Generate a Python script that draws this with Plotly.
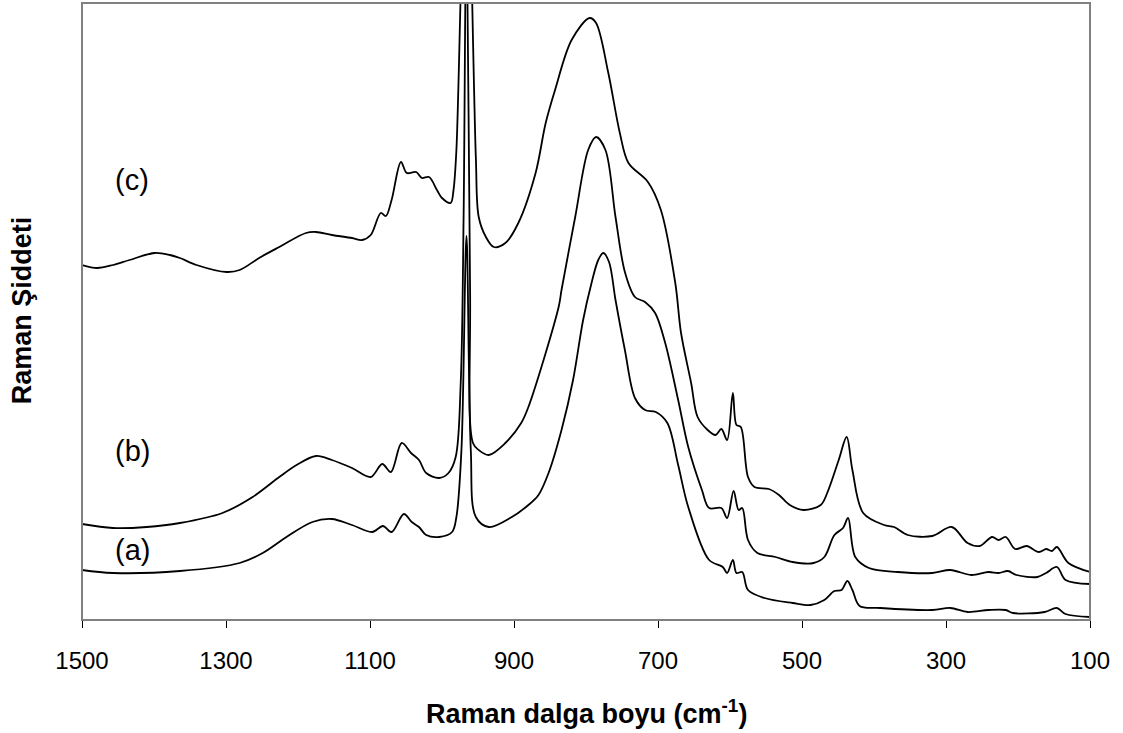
import plotly.graph_objects as go

# ---- data (wavenumber cm^-1, intensity a.u.) ----
wn_a = [1500, 1457, 1364, 1281, 1249, 1216, 1180, 1153, 1125, 1097, 1082, 1070, 1053, 1042, 1032,
        1022, 1004, 986, 980, 973, 966, 960, 953, 935, 903, 880, 866, 852, 834, 818, 804, 793, 783,
        776, 768, 759, 746, 732, 718, 703, 687, 672, 658, 629, 610, 604, 596, 591, 583, 575, 552,
        513, 488, 469, 455, 445, 437, 430, 420, 391, 319, 294, 270, 241, 217, 207, 163, 146, 134, 100]
int_a = [50, 47, 49, 57, 67, 83, 98, 101, 95, 88, 94, 88, 106, 98, 93,
         85, 83, 88, 103, 170, 384, 170, 103, 93, 103, 115, 125, 147, 190, 240, 300, 335, 360,
         367, 358, 320, 270, 222, 210, 208, 197, 155, 113, 60, 53, 47, 60, 47, 48, 30, 22,
         17, 15, 20, 29, 30, 39, 30, 14, 12, 10, 12, 8, 10, 10, 7, 8, 12, 6, 3]

wn_b = [1500, 1457, 1410, 1364, 1305, 1263, 1226, 1202, 1175, 1153, 1125, 1099, 1083, 1071, 1056,
        1043, 1032, 1022, 1004, 991, 981, 974, 970, 966, 961, 957, 949, 935, 912, 890, 880, 838,
        834, 815, 797, 786, 773, 759, 746, 732, 718, 704, 690, 672, 658, 639, 629, 612, 604, 595,
        588, 583, 575, 562, 537, 513, 484, 469, 455, 443, 436, 426, 407, 367, 319, 294, 265, 241,
        227, 214, 202, 173, 161, 146, 134, 100]
int_b = [96, 92, 93, 97, 107, 123, 143, 155, 164, 160, 152, 143, 156, 148, 177,
         167, 160, 147, 142, 147, 163, 237, 403, 720, 330, 177, 170, 165, 177, 197, 213, 313,
         330, 403, 470, 483, 470, 403, 348, 323, 318, 307, 277, 220, 173, 130, 112, 112, 102, 129,
         110, 112, 80, 67, 63, 58, 57, 63, 85, 92, 102, 63, 52, 48, 47, 50, 45, 48,
         47, 49, 45, 43, 47, 53, 40, 36]

wn_c = [1500, 1479, 1457, 1434, 1399, 1378, 1364, 1341, 1299, 1281, 1254, 1226, 1189, 1175, 1153,
        1125, 1111, 1099, 1085, 1078, 1070, 1057, 1049, 1036, 1028, 1018, 1007, 1000, 988, 984,
        980, 966, 953, 949, 939, 928, 912, 894, 870, 856, 843, 820, 795, 786, 769, 753, 741, 714,
        696, 676, 668, 654, 645, 631, 620, 612, 604, 596, 591, 585, 575, 566, 546, 532, 517, 498,
        474, 465, 449, 438, 430, 415, 386, 372, 353, 319, 292, 270, 253, 236, 227, 217, 204, 188,
        171, 161, 153, 146, 130, 100]
int_c = [355, 352, 355, 360, 367, 365, 362, 355, 348, 350, 362, 373, 387, 388, 385,
         382, 380, 385, 407, 404, 420, 458, 447, 448, 442, 443, 430, 422, 417, 430,
         470, 800, 463, 403, 383, 373, 377, 397, 447, 497, 530, 580, 602, 597, 547, 487, 457, 438,
         410, 337, 287, 237, 203, 190, 185, 191, 180, 227, 195, 193, 143, 133, 131, 125, 115, 110,
         115, 127, 160, 183, 150, 107, 95, 93, 85, 84, 93, 77, 74, 83, 80, 83, 71, 74,
         68, 71, 69, 73, 57, 48]

series_labels = ["(a)", "(b)", "(c)"]
label_wn = 1430
label_int = [70, 169, 440]

x_ticks = [1500, 1300, 1100, 900, 700, 500, 300, 100]

FONT = "Liberation Sans, Arial, sans-serif"

fig = go.Figure()
for wn, it in [(wn_a, int_a), (wn_b, int_b), (wn_c, int_c)]:
    fig.add_trace(go.Scatter(x=wn, y=it, mode="lines",
                             line=dict(color="black", width=1.8, shape="spline", smoothing=0.95),
                             showlegend=False, hoverinfo="skip"))

for lab, yv in zip(series_labels, label_int):
    fig.add_annotation(x=label_wn, y=yv, text=lab, showarrow=False,
                       font=dict(family=FONT, size=29, color="black"),
                       xanchor="center", yanchor="middle")

fig.add_annotation(xref="paper", yref="paper", x=0.5, y=-0.149,
                   text="<b>Raman dalga boyu (cm<sup>-1</sup>)</b>", showarrow=False,
                   font=dict(family=FONT, size=27, color="black"),
                   xanchor="center", yanchor="middle")
fig.add_annotation(xref="paper", yref="paper", x=-0.0595, y=0.502,
                   text="<b>Raman Şiddeti</b>", showarrow=False, textangle=-90,
                   font=dict(family=FONT, size=27, color="black"),
                   xanchor="center", yanchor="middle")

fig.add_shape(type="rect", xref="paper", yref="paper", x0=0, y0=0, x1=1, y1=1,
              line=dict(color="#808080", width=2), layer="above")

fig.update_layout(
    width=1123, height=733,
    margin=dict(l=82, r=33, t=3, b=113),
    paper_bgcolor="white", plot_bgcolor="white",
    font=dict(family=FONT, color="black"),
    xaxis=dict(range=[1500, 100], tickvals=x_ticks, ticktext=[str(v) for v in x_ticks],
               ticks="outside", ticklen=7, tickwidth=1, tickcolor="black",
               showline=True, linecolor="black", linewidth=1,
               showgrid=False, zeroline=False,
               tickfont=dict(family=FONT, size=24, color="black"),
               ticklabelstandoff=12),
    yaxis=dict(range=[0, 617], showticklabels=False, ticks="", showgrid=False,
               zeroline=False, showline=False),
)

fig.write_html("out.html")
